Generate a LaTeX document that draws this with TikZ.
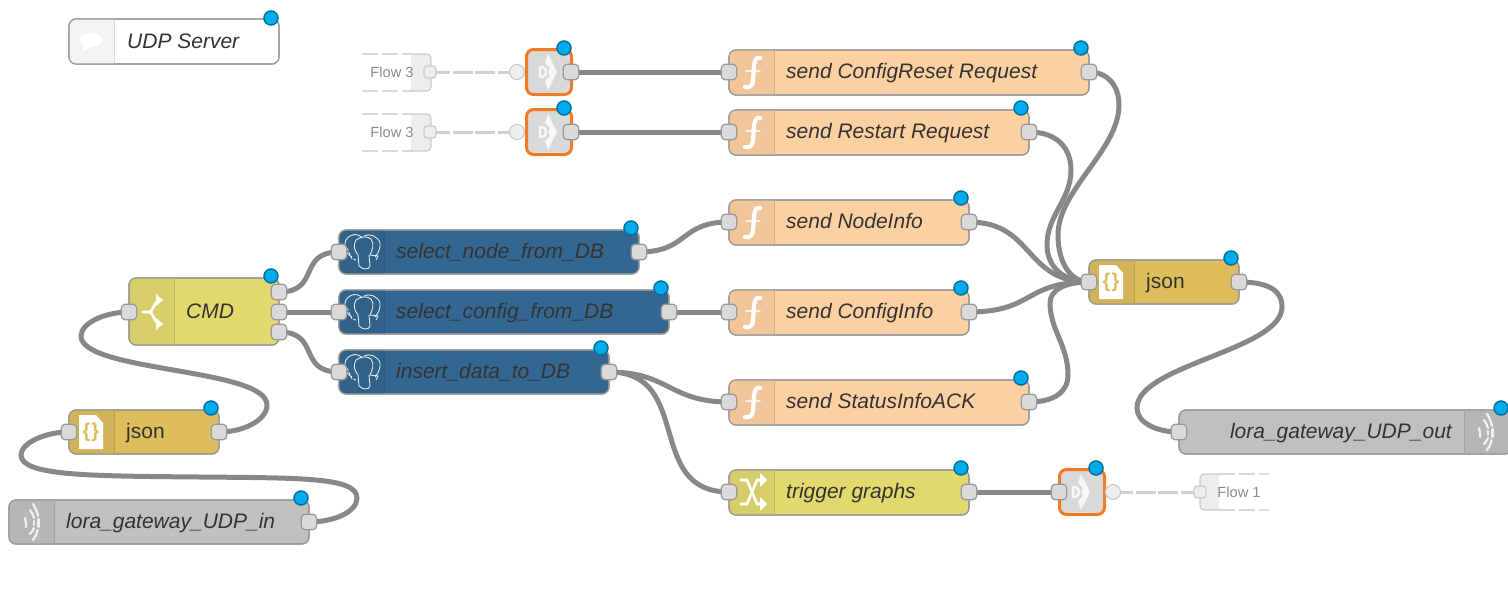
\documentclass[tikz,border=0pt]{standalone}
\usepackage{fontspec}
\setmainfont{Liberation Sans}
\usetikzlibrary{backgrounds,calc}
\definecolor{cbord}{HTML}{999999}
\definecolor{ctext}{HTML}{333333}
\definecolor{cwire}{HTML}{888888}
\definecolor{cdot}{HTML}{00ACEE}
\definecolor{cdotb}{HTML}{00749E}
\definecolor{corange}{HTML}{F47B26}
\definecolor{cfun}{HTML}{FDD0A2}
\definecolor{cfund}{HTML}{F0C59A}
\definecolor{cjson}{HTML}{DEBD5C}
\definecolor{cjsond}{HTML}{D3B358}
\definecolor{csw}{HTML}{E2D96E}
\definecolor{cswd}{HTML}{D6CE69}
\definecolor{cpg}{HTML}{336791}
\definecolor{cpgd}{HTML}{30628A}
\definecolor{cudp}{HTML}{C0C0C0}
\definecolor{cudpd}{HTML}{B6B6B6}
\definecolor{clink}{HTML}{D9D9D9}
\definecolor{cicon}{HTML}{F3F3F3}
\tikzset{
  x=1pt,y=-1pt,
  body/.style={draw=cbord,line width=1.2pt,rounded corners=7pt,inner sep=0pt,minimum width=0pt},
  portbox/.style={draw=cbord,fill=clink,line width=1.2pt,rounded corners=4pt,minimum width=15.5pt,minimum height=15.5pt,inner sep=0pt},
  paleport/.style={draw=black!20,fill=black!7,line width=1.2pt,rounded corners=3pt,minimum width=12pt,minimum height=12pt,inner sep=0pt},
  statusdot/.style={circle,draw=cdotb,fill=cdot,line width=1.5pt,minimum size=14pt,inner sep=0pt},
  label/.style={anchor=mid west,inner sep=0pt,yshift=-5pt,text=ctext,font=\fontsize{21}{25}\selectfont\itshape},
  plainlabel/.style={anchor=mid west,inner sep=0pt,yshift=-5pt,text=ctext,font=\fontsize{21}{25}\selectfont},
  flowlabel/.style={inner sep=0pt,text=black!45,font=\fontsize{14.7}{18}\selectfont},
  wire/.style={draw=cwire,line width=5pt},
  palewire/.style={draw=black!18,line width=3pt,dash pattern=on 20pt off 2.5pt},
  iconline/.style={draw=white,line width=2.6pt,line cap=round,line join=round},
  waveline/.style={draw=white,draw opacity=.8,line width=2.2pt,line cap=round},
  thinicon/.style={draw=white,draw opacity=.85,line width=.9pt,line join=round},
  linkbody/.style={draw=corange,fill=clink,line width=3pt,rounded corners=7pt,minimum width=45pt,minimum height=45pt,inner sep=0pt}
}
% name, x1, y1, x2, y2, fill, icon fill, divider x1, divider x2
\newcommand\flownode[9]{%
  \node[body,fill=#6,minimum width={(#4-#2)*1pt},minimum height={(#5-#3)*1pt}] (#1) at ({(#2+#4)/2},{(#3+#5)/2}) {};
  \begin{scope}
    \clip[rounded corners=7pt] (#2,#3) rectangle (#4,#5);
    \fill[#7] (#8,#3) rectangle (#9,#5);
    \draw[black!10!#7,line width=1pt] (#8,#3) -- (#8,#5) (#9,#3) -- (#9,#5);
  \end{scope}
  \draw[cbord,line width=1.2pt,rounded corners=7pt] (#2,#3) rectangle (#4,#5);
}
\newcommand\ficon[2]{% centre x,y
  \begin{scope}[shift={(#1,#2)}]
    \draw[iconline,line width=4.2pt] (8,-14) .. controls (4,-15) and (2.5,-11) .. (2,-6) -- (1,9) .. controls (0.5,14) and (-3,16) .. (-7,15);
    \draw[iconline,draw opacity=.75,line width=1.8pt] (-6,-1) -- (8,-1);
  \end{scope}}
\newcommand\elephant[2]{%
  \begin{scope}[shift={(#1,#2)}]
    \draw[thinicon] (-9,6) .. controls (-17,2) and (-19,-11) .. (-11,-15) .. controls (-6,-18) and (-1,-16) .. (1,-13);
    \draw[thinicon] (3,-15) .. controls (8,-18) and (17,-15) .. (19,-8) .. controls (20,-2) and (16,4) .. (14,6);
    \draw[thinicon] (-5,-11) .. controls (-8,-6) and (-7,-1) .. (-3,4) -- (-2,15) .. controls (2,19) and (8,19) .. (9,15) -- (8,4);
    \draw[thinicon] (-5,-11) .. controls (0,-15) and (6,-15) .. (10,-12) .. controls (14,-7) and (11,0) .. (9,4) -- (17,5) -- (15,9);
    \draw[thinicon,dash pattern=on 3pt off 1.5pt] (-14,-3) -- (-9,8) -- (-5,9);
  \end{scope}}
\newcommand\jsonicon[3]{% name x y
  \fill[white] (#2-12,#3-17) -- (#2+5,#3-17) -- (#2+12,#3-9) -- (#2+12,#3+17) -- (#2-12,#3+17) -- cycle;
  \node[inner sep=0pt,text=cjson,font=\fontsize{20}{24}\bfseries] (#1) at (#2,#3) {\{\hspace{1pt}\}};
}
\newcommand\waves[2]{%
  \begin{scope}[shift={(#1,#2)}]
    \draw[waveline] (1,-18) .. controls (3,-15) and (5,-11) .. (6,-6);
    \draw[waveline] (6.5,-3) -- (6.5,5);
    \draw[waveline] (5.5,8) .. controls (5,12) and (3,15) .. (1,18);
    \draw[waveline] (-2,-12) .. controls (0,-10) and (1,-7) .. (2,-4);
    \draw[waveline] (2,-1) -- (2,3);
    \draw[waveline] (2,6) .. controls (1,8) and (0,10) .. (-2,12);
    \draw[waveline] (-7,-4) .. controls (-6,-1) and (-6,2) .. (-6,5);
  \end{scope}}
\newcommand\linkicon[2]{%
  \begin{scope}[shift={(#1,#2)}]
    \fill[white,opacity=.8] (-1,-18) -- (8,0) -- (-1,18) -- (-4,9) -- (1,4) -- (-1,0) -- (1,-4) -- (-4,-9) -- cycle;
    \draw[white,draw opacity=.8,line width=2.4pt] (-9,-5) -- (-7,-5) .. controls (-4,-5) and (-3,-2) .. (-3,0) .. controls (-3,2) and (-4,5) .. (-7,5) -- (-9,5) -- cycle;
  \end{scope}}
\begin{document}
\begin{tikzpicture}
\useasboundingbox (0,0) rectangle (1508,605);
% comment
\flownode{nComment}{69}{19}{279}{64}{white}{cicon}{69}{114}
\fill[white] (91,40) ellipse (11 and 7);
\fill[white] (85,44) -- (82,52) -- (93,46) -- cycle;
\node[label] (lComment) at (127,41) {UDP Server};
% faded flow boxes
\foreach \nm/\yy in {A/72,B/132}{
  \draw[black!15,line width=1.5pt,dash pattern=on 16pt off 4pt] (362,\yy-18) -- (412,\yy-18) (362,\yy+19) -- (412,\yy+19);
  \draw[black!20,fill=black!7,line width=1.2pt,rounded corners=4pt] (411,\yy-18) -- (431,\yy-18) -- (431,\yy+19) -- (411,\yy+19);
  \node[flowlabel] (flow\nm) at (392,\yy) {Flow 3};
  \node[paleport] (po\nm) at (430,\yy) {};
  \node[circle,draw=black!20,fill=black!7,line width=1.2pt,minimum size=15pt,inner sep=0pt] (cir\nm) at (517,\yy) {};
  \node[linkbody] (link\nm) at (549,\yy) {};
  \linkicon{549}{\yy}
  \node[portbox] (lo\nm) at (571,\yy) {};
  \node[statusdot] (dlink\nm) at (564,\yy-24) {};
}
% flow 1
\draw[black!15,line width=1.5pt,dash pattern=on 16pt off 4pt] (1219,474) -- (1269,474) (1219,510) -- (1269,510);
\draw[black!20,fill=black!7,line width=1.2pt,rounded corners=4pt] (1219,474) -- (1200,474) -- (1200,510) -- (1219,510);
\node[flowlabel] (flowC) at (1239,492) {Flow 1};
\node[paleport] (poC) at (1200,492) {};
\node[linkbody] (linkC) at (1082,492) {};
\linkicon{1082}{492}
\node[portbox] (liC) at (1059,492) {};
\node[circle,draw=black!20,fill=black!7,line width=1.2pt,minimum size=15pt,inner sep=0pt] (cirC) at (1113,492) {};
\node[statusdot] (dlinkC) at (1096,468) {};
% functions
\flownode{nReset}{729}{50}{1089}{95}{cfun}{cfund}{729}{774}
\ficon{752}{72}
\node[label] (lReset) at (786,71) {send ConfigReset Request};
\flownode{nRestart}{729}{110}{1029}{155}{cfun}{cfund}{729}{774}
\ficon{752}{132}
\node[label] (lRestart) at (786,131) {send Restart Request};
\flownode{nInfo}{729}{200}{969}{245}{cfun}{cfund}{729}{774}
\ficon{752}{222}
\node[label] (lInfo) at (786,221) {send NodeInfo};
\flownode{nConf}{729}{290}{969}{335}{cfun}{cfund}{729}{774}
\ficon{752}{312}
\node[label] (lConf) at (786,311) {send ConfigInfo};
\flownode{nAck}{729}{380}{1029}{425}{cfun}{cfund}{729}{774}
\ficon{752}{402}
\node[label] (lAck) at (786,401) {send StatusInfoACK};
% trigger
\flownode{nTrig}{729}{470}{969}{515}{csw}{cswd}{729}{774}
\draw[iconline] (741,480) -- (747,480) -- (757,504) -- (762,504);
\draw[iconline] (741,504) -- (747,504) -- (757,480) -- (762,480);
\fill[white] (760,473) -- (767,480) -- (760,487) -- cycle;
\fill[white] (760,497) -- (767,504) -- (760,511) -- cycle;
\node[label] (lTrig) at (786,491) {trigger graphs};
% right json
\flownode{nJsonR}{1089}{260}{1239}{304}{cjson}{cjsond}{1089}{1134}
\jsonicon{iJsonR}{1111}{282}
\node[plainlabel] (lJsonR) at (1146,281) {json};
% udp out
\flownode{nOut}{1179}{410}{1512}{454}{cudp}{cudpd}{1464}{1512}
\waves{1486}{432}
\node[label,anchor=mid east] (lOut) at (1452,431) {lora\_gateway\_UDP\_out};
% postgres
\flownode{nSelN}{339}{230}{639}{274}{cpg}{cpgd}{339}{384}
\elephant{361}{251}
\node[label] (lSelN) at (396,251) {select\_node\_from\_DB};
\flownode{nSelC}{339}{290}{669}{334}{cpg}{cpgd}{339}{384}
\elephant{361}{311}
\node[label] (lSelC) at (396,311) {select\_config\_from\_DB};
\flownode{nIns}{339}{350}{609}{394}{cpg}{cpgd}{339}{384}
\elephant{361}{371}
\node[label] (lIns) at (396,371) {insert\_data\_to\_DB};
% CMD
\flownode{nCmd}{129}{278}{279}{345}{csw}{cswd}{129}{174}
\draw[iconline] (143,312) -- (149,312) .. controls (153,312) and (153,304) .. (158,301);
\draw[iconline] (149,312) .. controls (153,312) and (153,320) .. (158,323);
\fill[white] (156,294) -- (163,300) -- (156,306) -- cycle;
\fill[white] (156,318) -- (163,324) -- (156,330) -- cycle;
\node[label] (lCmd) at (186,311) {CMD};
% left json
\flownode{nJsonL}{69}{410}{219}{454}{cjson}{cjsond}{69}{114}
\jsonicon{iJsonL}{91}{432}
\node[plainlabel] (lJsonL) at (126,431) {json};
% udp in
\flownode{nIn}{9}{500}{309}{544}{cudp}{cudpd}{9}{54}
\waves{32}{522}
\node[label] (lIn) at (66,521) {lora\_gateway\_UDP\_in};
% ports
\foreach \nm/\px/\py in {rI/729/72,rO/1089/72,sI/729/132,sO/1029/132,iI/729/222,iO/969/222,cI/729/312,cO/969/312,aI/729/402,aO/1029/402,tI/729/492,tO/969/492,jrI/1089/282,jrO/1239/282,oI/1179/432,snI/339/252,snO/639/252,scI/339/312,scO/669/312,inI/339/372,inO/609/372,cmI/129/312,cmA/279/292,cmB/279/312,cmC/279/332,jlI/69/432,jlO/219/432,udO/309/522}{
  \node[portbox] (\nm) at (\px,\py) {};
}
% status
\foreach \nm/\px/\py in {dC/271/18,dR/1081/48,dS/1021/108,dI/961/198,dO/961/288,dA/1021/378,dT/961/468,dJ/1231/258,dU/1501/408,dSn/631/228,dSc/661/288,dIn/601/348,dCm/271/276,dJl/211/408,dUi/301/498}{
  \node[statusdot] (\nm) at (\px,\py) {};
}
\begin{pgfonlayer}{background}
\draw[palewire] (poA.center) -- (cirA.center);
\draw[palewire] (poB.center) -- (cirB.center);
\draw[palewire] (cirC.center) -- (poC.center);
\draw[wire] (loA.center) -- (rI.center);
\draw[wire] (loB.center) -- (sI.center);
\draw[wire] (tO.center) -- (liC.center);
\draw[wire] (cmB.center) -- (scI.center);
\draw[wire] (scO.center) -- (cI.center);
\draw[wire] (cmA.center) .. controls +(42,0) and ($(snI.center)+(-42,0)$) .. (snI.center);
\draw[wire] (cmC.center) .. controls +(42,0) and ($(inI.center)+(-42,0)$) .. (inI.center);
\draw[wire] (snO.center) .. controls +(50,0) and ($(iI.center)+(-50,0)$) .. (iI.center);
\draw[wire] (inO.center) .. controls +(60,0) and ($(aI.center)+(-60,0)$) .. (aI.center);
\draw[wire] (inO.center) .. controls +(85,0) and ($(tI.center)+(-85,0)$) .. (tI.center);
\draw[wire] (iO.center) .. controls +(65,0) and ($(jrI.center)+(-65,0)$) .. (jrI.center);
\draw[wire] (cO.center) .. controls +(65,0) and ($(jrI.center)+(-65,0)$) .. (jrI.center);
\draw[wire] (rO.center) .. controls +(18,0) and (1119,85) .. (1119,105)
  .. controls (1119,150) and (1058,190) .. (1058,235)
  .. controls (1058,262) and (1070,282) .. (jrI.center);
\draw[wire] (sO.center) .. controls +(28,0) and (1071,148) .. (1071,170)
  .. controls (1071,200) and (1047,215) .. (1047,245)
  .. controls (1047,268) and (1065,282) .. (jrI.center);
\draw[wire] (aO.center) .. controls +(25,0) and (1068,392) .. (1068,375)
  .. controls (1068,345) and (1050,330) .. (1050,303)
  .. controls (1050,290) and (1065,282) .. (jrI.center);
\draw[wire] (jrO.center) .. controls +(25,0) and (1282,288) .. (1282,307)
  .. controls (1282,350) and (1137,365) .. (1137,408)
  .. controls (1137,422) and (1155,432) .. (oI.center);
\draw[wire] (jlO.center) .. controls +(25,0) and (267,420) .. (267,405)
  .. controls (267,368) and (81,372) .. (81,336)
  .. controls (81,323) and (105,312) .. (cmI.center);
\draw[wire] (udO.center) .. controls +(25,0) and (357,512) .. (357,498)
  .. controls (357,477) and (300,478) .. (200,477)
  .. controls (90,476) and (21,476) .. (21,455)
  .. controls (21,443) and (45,432) .. (jlI.center);
\end{pgfonlayer}
\end{tikzpicture}
\end{document}
